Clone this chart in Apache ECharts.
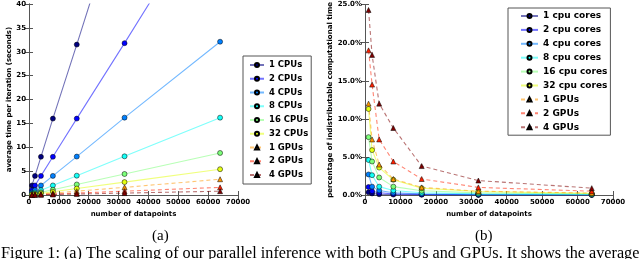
<!DOCTYPE html>
<html>
<head>
<meta charset="utf-8">
<script src="https://cdn.jsdelivr.net/npm/echarts@6/dist/echarts.min.js"></script>
<style>
html,body{margin:0;padding:0;background:#fff;}
#chart{width:640px;height:259px;}
</style>
</head>
<body>
<div id="chart"></div>
<script>
// ---- data ----
const xVals = [1000, 2000, 4000, 8000, 16000, 32000, 64000];
const xTicks = [0, 10000, 20000, 30000, 40000, 50000, 60000, 70000];

const leftNames = ['1 CPUs', '2 CPUs', '4 CPUs', '8 CPUs', '16 CPUs', '32 CPUs', '1 GPUs', '2 GPUs', '4 GPUs'];
const rightNames = ['1 cpu cores', '2 cpu cores', '4 cpu cores', '8 cpu cores', '16 cpu cores', '32 cpu cores', '1 GPUs', '2 GPUs', '4 GPUs'];

// average time per iteration (seconds)
const t1cpu  = [2, 4, 8, 16, 31.5, 63, 126];
const t2cpu  = [1, 2, 4, 8, 16, 31.8, 64];
const t4cpu  = [0.5, 1, 2, 4, 8.05, 16.2, 32.1];
const t8cpu  = [0.25, 0.5, 1, 2, 4.05, 8.1, 16.2];
const t16cpu = [0.13, 0.27, 0.55, 1.1, 2.2, 4.4, 8.8];
const t32cpu = [0.08, 0.17, 0.33, 0.67, 1.35, 2.7, 5.4];
const t1gpu  = [0.05, 0.1, 0.2, 0.4, 0.8, 1.6, 3.3];
const t2gpu  = [0.03, 0.05, 0.1, 0.2, 0.4, 0.8, 1.6];
const t4gpu  = [0.015, 0.03, 0.05, 0.1, 0.2, 0.4, 0.8];

// percentage of indistributable computational time (%)
const p1cpu  = [0.35, 0.2, 0.1, 0.05, 0.03, 0.015, 0.008];
const p2cpu  = [1.05, 0.5, 0.3, 0.15, 0.08, 0.04, 0.02];
const p4cpu  = [2.7, 1.1, 0.6, 0.3, 0.15, 0.08, 0.04];
const p8cpu  = [4.6, 2.6, 1.1, 0.6, 0.3, 0.15, 0.08];
const p16cpu = [7.6, 4.4, 2.3, 1.1, 0.55, 0.28, 0.14];
const p32cpu = [11.3, 5.9, 3.6, 2.0, 0.9, 0.45, 0.22];
const p1gpu  = [12.0, 7.3, 4.0, 2.1, 1.0, 0.5, 0.25];
const p2gpu  = [19.0, 14.5, 7.3, 4.4, 2.1, 1.0, 0.5];
const p4gpu  = [24.3, 18.4, 12.0, 8.8, 3.8, 1.9, 0.9];

const leftData = [t1cpu, t2cpu, t4cpu, t8cpu, t16cpu, t32cpu, t1gpu, t2gpu, t4gpu];
const rightData = [p1cpu, p2cpu, p4cpu, p8cpu, p16cpu, p32cpu, p1gpu, p2gpu, p4gpu];

// ---- styles ----
const colors = ['#000080', '#0000ff', '#0080ff', '#14fff7', '#7dff7a', '#e4ff13', '#ff9700', '#ff2000', '#800000'];
const isGpu = [false, false, false, false, false, false, true, true, true];
const FONT = 'DejaVu Sans';

function makeSeries(names, data, xi, yi) {
  return names.map((n, i) => ({
    name: n,
    type: 'line',
    xAxisIndex: xi,
    yAxisIndex: yi,
    data: xVals.map((x, k) => [x, data[i][k]]),
    symbol: isGpu[i] ? 'triangle' : 'circle',
    symbolSize: 5,
    showSymbol: true,
    clip: true,
    animation: false,
    itemStyle: { color: colors[i], borderColor: '#000', borderWidth: 0.5 },
    lineStyle: { color: colors[i], opacity: 0.55, width: 1.1, type: isGpu[i] ? [4, 3] : 'solid' },
    emphasis: { disabled: true }
  }));
}

const frameLine = { show: true, lineStyle: { color: '#555', width: 1 } };
const tickIn = { show: true, inside: true, length: 4, lineStyle: { color: '#555' } };
const labelStyle = { fontFamily: FONT, fontSize: 7, fontWeight: 'bold', color: '#000' };

function xAxes(gi) {
  return [
    { type: 'value', gridIndex: gi, min: 0, max: 70000, interval: 10000, position: 'bottom',
      axisLine: frameLine, axisTick: tickIn, splitLine: { show: false },
      axisLabel: Object.assign({ margin: 4, formatter: v => String(v) }, labelStyle),
      name: 'number of datapoints', nameLocation: 'middle', nameGap: 15,
      nameTextStyle: { fontFamily: FONT, fontSize: 7, fontWeight: 'bold', color: '#000' } },
    { type: 'value', gridIndex: gi, min: 0, max: 70000, interval: 10000, position: 'top',
      axisLine: frameLine, axisTick: tickIn, splitLine: { show: false }, axisLabel: { show: false } }
  ];
}

function yAxes(gi, max, fmt, name, gap) {
  return [
    { type: 'value', gridIndex: gi, min: 0, max: max, interval: 5, position: 'left',
      axisLine: frameLine, axisTick: tickIn, splitLine: { show: false },
      axisLabel: Object.assign({ margin: 3, formatter: fmt }, labelStyle),
      name: name, nameLocation: 'middle', nameGap: gap, nameRotate: 90,
      nameTextStyle: { fontFamily: FONT, fontSize: 7, fontWeight: 'bold', color: '#000' } },
    { type: 'value', gridIndex: gi, min: 0, max: max, interval: 5, position: 'right',
      axisLine: frameLine, axisTick: tickIn, splitLine: { show: false }, axisLabel: { show: false } }
  ];
}

const chart = echarts.init(document.getElementById('chart'), null, { renderer: 'canvas' });
const option = {
  animation: false,
  backgroundColor: '#fff',
  grid: [
    { left: 29, top: 4, width: 209, height: 191, containLabel: false },
    { left: 365, top: 4, width: 248, height: 191, containLabel: false }
  ],
  xAxis: xAxes(0).concat(xAxes(1)),
  yAxis: yAxes(0, 40, v => String(v), 'average time per iteration (seconds)', 15)
    .concat(yAxes(1, 25, v => v.toFixed(1) + '%', 'percentage of indistributable computational time', 29)),
  legend: [
    { data: leftNames, orient: 'vertical', left: 243, top: 56,
      itemWidth: 14, itemHeight: 5, itemGap: 3.75, itemTextGap: 10,
      padding: [4, 3, 4, 6], borderColor: '#555', borderWidth: 1, backgroundColor: '#fff',
      textStyle: { fontFamily: FONT, fontSize: 8.5, fontWeight: 'bold', color: '#000', lineHeight: 10 },
      selectedMode: false },
    { data: rightNames, orient: 'vertical', left: 508, top: 8,
      itemWidth: 17, itemHeight: 5, itemGap: 3.9, itemTextGap: 7,
      padding: [3, 3, 3, 12], borderColor: '#555', borderWidth: 1, backgroundColor: '#fff',
      textStyle: { fontFamily: FONT, fontSize: 9, fontWeight: 'bold', color: '#000', lineHeight: 10 },
      selectedMode: false }
  ],
  graphic: [
    { type: 'text', left: 152, top: 229, style: { text: '(a)', font: '15px "Liberation Serif"', fill: '#000' } },
    { type: 'text', left: 475, top: 229, style: { text: '(b)', font: '15px "Liberation Serif"', fill: '#000' } },
    { type: 'text', left: 1, top: 246, style: { text: 'Figure 1: (a) The scaling of our parallel inference with both CPUs and GPUs. It shows the average', font: '16.2px "Liberation Serif"', fill: '#000' } }
  ],
  series: makeSeries(leftNames, leftData, 0, 0).concat(makeSeries(rightNames, rightData, 2, 2))
};
chart.setOption(option);
</script>
</body>
</html>
